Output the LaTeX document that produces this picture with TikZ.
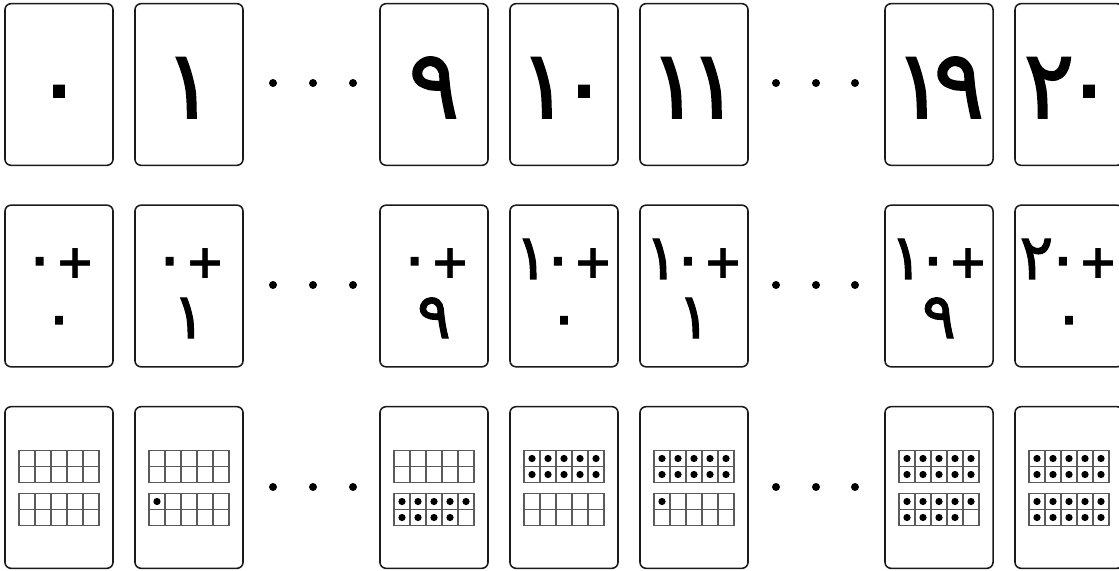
\documentclass[tikz,border=0pt]{standalone}
\usepackage{fontspec}
\usetikzlibrary{positioning}
\newfontfamily\arabicfont[FakeBold=1.6]{DejaVu Sans}
\newfontfamily\plusfont{DejaVu Sans Bold}
\definecolor{cardLine}{HTML}{1A1A1A}
\definecolor{gridLine}{HTML}{5A5A5A}

\tikzset{
  card/.style={draw=cardLine, line width=1.1pt, rounded corners=4.3pt,
    minimum width=2.7cm, minimum height=4.04cm, inner sep=0pt},
  bignum/.style={font=\arabicfont\fontsize{68}{72}\selectfont, anchor=base, inner sep=0pt},
  sumnum/.style={font=\arabicfont\fontsize{45}{48}\selectfont, anchor=base, inner sep=0pt},
  ellip/.style={circle, fill=black, inner sep=0pt, minimum size=5.7pt},
  gridline/.style={draw=gridLine, line width=0.75pt},
  counter/.style={fill=black}
}
\newcommand{\plussign}{\kern-.02em{\plusfont\fontsize{34}{34}\selectfont+}}
\newcommand{\dk}{\kern-.12em}

% one ten frame: left x, top y, number of counters
\newcommand{\tenframe}[3]{%
  \draw[gridline] (#1,#2) rectangle ++(80,32);
  \foreach \k in {1,...,4} \draw[gridline] (#1+16*\k,#2) -- ++(0,32);
  \draw[gridline] (#1,#2+16) -- ++(80,0);
  \ifnum#3>0
    \foreach \d in {1,...,#3}{
      \pgfmathtruncatemacro{\dc}{mod(\d-1,5)}
      \pgfmathtruncatemacro{\dr}{(\d-1)/5}
      \fill[counter] (#1+8+16*\dc,#2+8+16*\dr) circle (3.6);
    }
  \fi
}

\begin{document}
\begin{tikzpicture}[x=0.025cm, y=-0.025cm]
  \useasboundingbox (0,0) rectangle (1119,571);

  % cards, one column at a time
  \foreach \col/\cx/\numA/\sumTop/\sumBot/\nTen/\nOne in {
    1/59/٠/٠/٠/0/0,
    2/189/١/٠/١/0/1,
    3/434/٩/٠/٩/0/9,
    4/564/١\dk٠/١\dk٠/٠/10/0,
    5/694/١\dk١/١\dk٠/١/10/1,
    6/939/١\dk٩/١\dk٠/٩/10/9,
    7/1069/٢\dk٠/٢\dk٠/٠/10/10}{
    % numeral card
    \node[card] (num-\col) at (\cx,84.5) {};
    \node[bignum] (numtxt-\col) at (\cx,118) {\numA};
    % sum card
    \node[card] (sum-\col) at (\cx,286) {};
    \node[sumnum] (sumtop-\col) at (\cx,279) {\sumTop\plussign};
    \node[sumnum] (sumbot-\col) at (\cx,338) {\sumBot};
    % ten frame card
    \node[card] (frame-\col) at (\cx,487.5) {};
    \tenframe{\cx-40}{450.5}{\nTen}
    \tenframe{\cx-40}{493.5}{\nOne}
  }

  % gaps in the sequence
  \foreach \r/\ry in {1/83, 2/285, 3/487}{
    \foreach \j/\gx in {1/273, 2/313, 3/353, 4/776, 5/816, 6/855}
      \node[ellip] (gap-\r-\j) at (\gx,\ry) {};
  }
\end{tikzpicture}
\end{document}
